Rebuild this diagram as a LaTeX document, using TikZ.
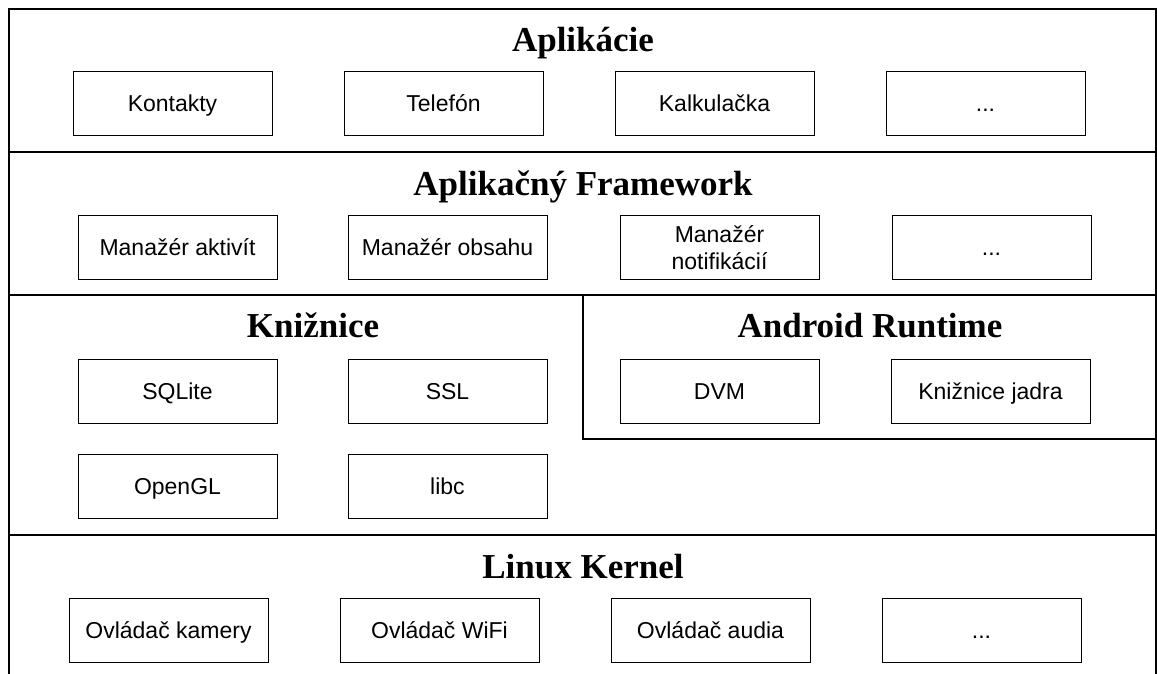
\documentclass[tikz,border=0pt]{standalone}
\usepackage{fontspec}
\setmainfont{Liberation Serif}
\setsansfont{Liberation Sans}
\usetikzlibrary{positioning}
\newcommand{\moredots}{...}
\tikzset{
    block/.style = {draw, rectangle, line width=1pt,
        minimum height=64pt,
        minimum width=199pt, inner sep=0pt, align=center,
        text height=16pt, text depth=0pt,
        font=\sffamily\fontsize{23}{27}\selectfont},
    layer/.style = {anchor=base, font=\bfseries\fontsize{35}{40}\selectfont},
    frame/.style = {draw, line width=1.4pt}
}

\begin{document}
\begin{tikzpicture}[x=1pt, y=-1pt]
        \useasboundingbox (0,0) rectangle (1157,674);
        % outer frame and layer dividers
        \coordinate (tl) at (9,9);
        \coordinate (tr) at (1156,9);
        \coordinate (bl) at (9,674);
        \coordinate (br) at (1156,674);
        \draw [frame] (bl) -- (tl) -- (tr) -- (br);
        \foreach \y/\nm in {152/appfw, 295/fwlib, 535/libkern}{
            \coordinate (\nm-l) at (9,\y);
            \coordinate (\nm-r) at (1156,\y);
            \draw [frame] (\nm-l) -- (\nm-r);
        }
        \coordinate (rt-top) at (583,295);
        \coordinate (rt-bl) at (583,439);
        \coordinate (rt-br) at (1156,439);
        \draw [frame] (rt-top) -- (rt-bl) -- (rt-br);
        % layer titles
        \node [layer, name=tapp] at (583,52) {Aplikácie};
        \node [layer, name=tfw] at (583,195) {Aplikačný Framework};
        \node [layer, name=tlib] at (313,337) {Knižnice};
        \node [layer, name=trt] at (870,337) {Android Runtime};
        \node [layer, name=tkern] at (583,578) {Linux Kernel};
        % applications
        \foreach \lbl [count=\i] in {Kontakty,Telefón,Kalkulačka,\moredots}{
            \node [block, name=app\i] at ({172.5+271*(\i-1)},104) {\lbl};
        }
        % framework
        \node [block, name=fw1] at (177.5,247.5) {Manažér aktivít};
        \node [block, name=fw2] at (447.5,247.5) {Manažér obsahu};
        \node [block, text height=43pt, name=fw3] at (719.5,247.5) {Manažér\\notifikácií};
        \node [block, name=fw4] at (991.5,247.5) {\moredots};
        % libraries and runtime
        \node [block, name=sqlite] at (177.5,391) {SQLite};
        \node [block, name=ssl] at (447.5,391) {SSL};
        \node [block, name=opengl] at (177.5,486.5) {OpenGL};
        \node [block, name=libc] at (447.5,486.5) {libc};
        \node [block, name=dvm] at (719.5,391) {DVM};
        \node [block, name=corelib] at (990.5,391) {Knižnice jadra};
        % kernel
        \foreach \lbl [count=\i] in {Ovládač kamery,Ovládač WiFi,Ovládač audia,\moredots}{
            \node [block, name=kern\i] at ({168.5+271*(\i-1)},630) {\lbl};
        }
\end{tikzpicture}
\end{document}
